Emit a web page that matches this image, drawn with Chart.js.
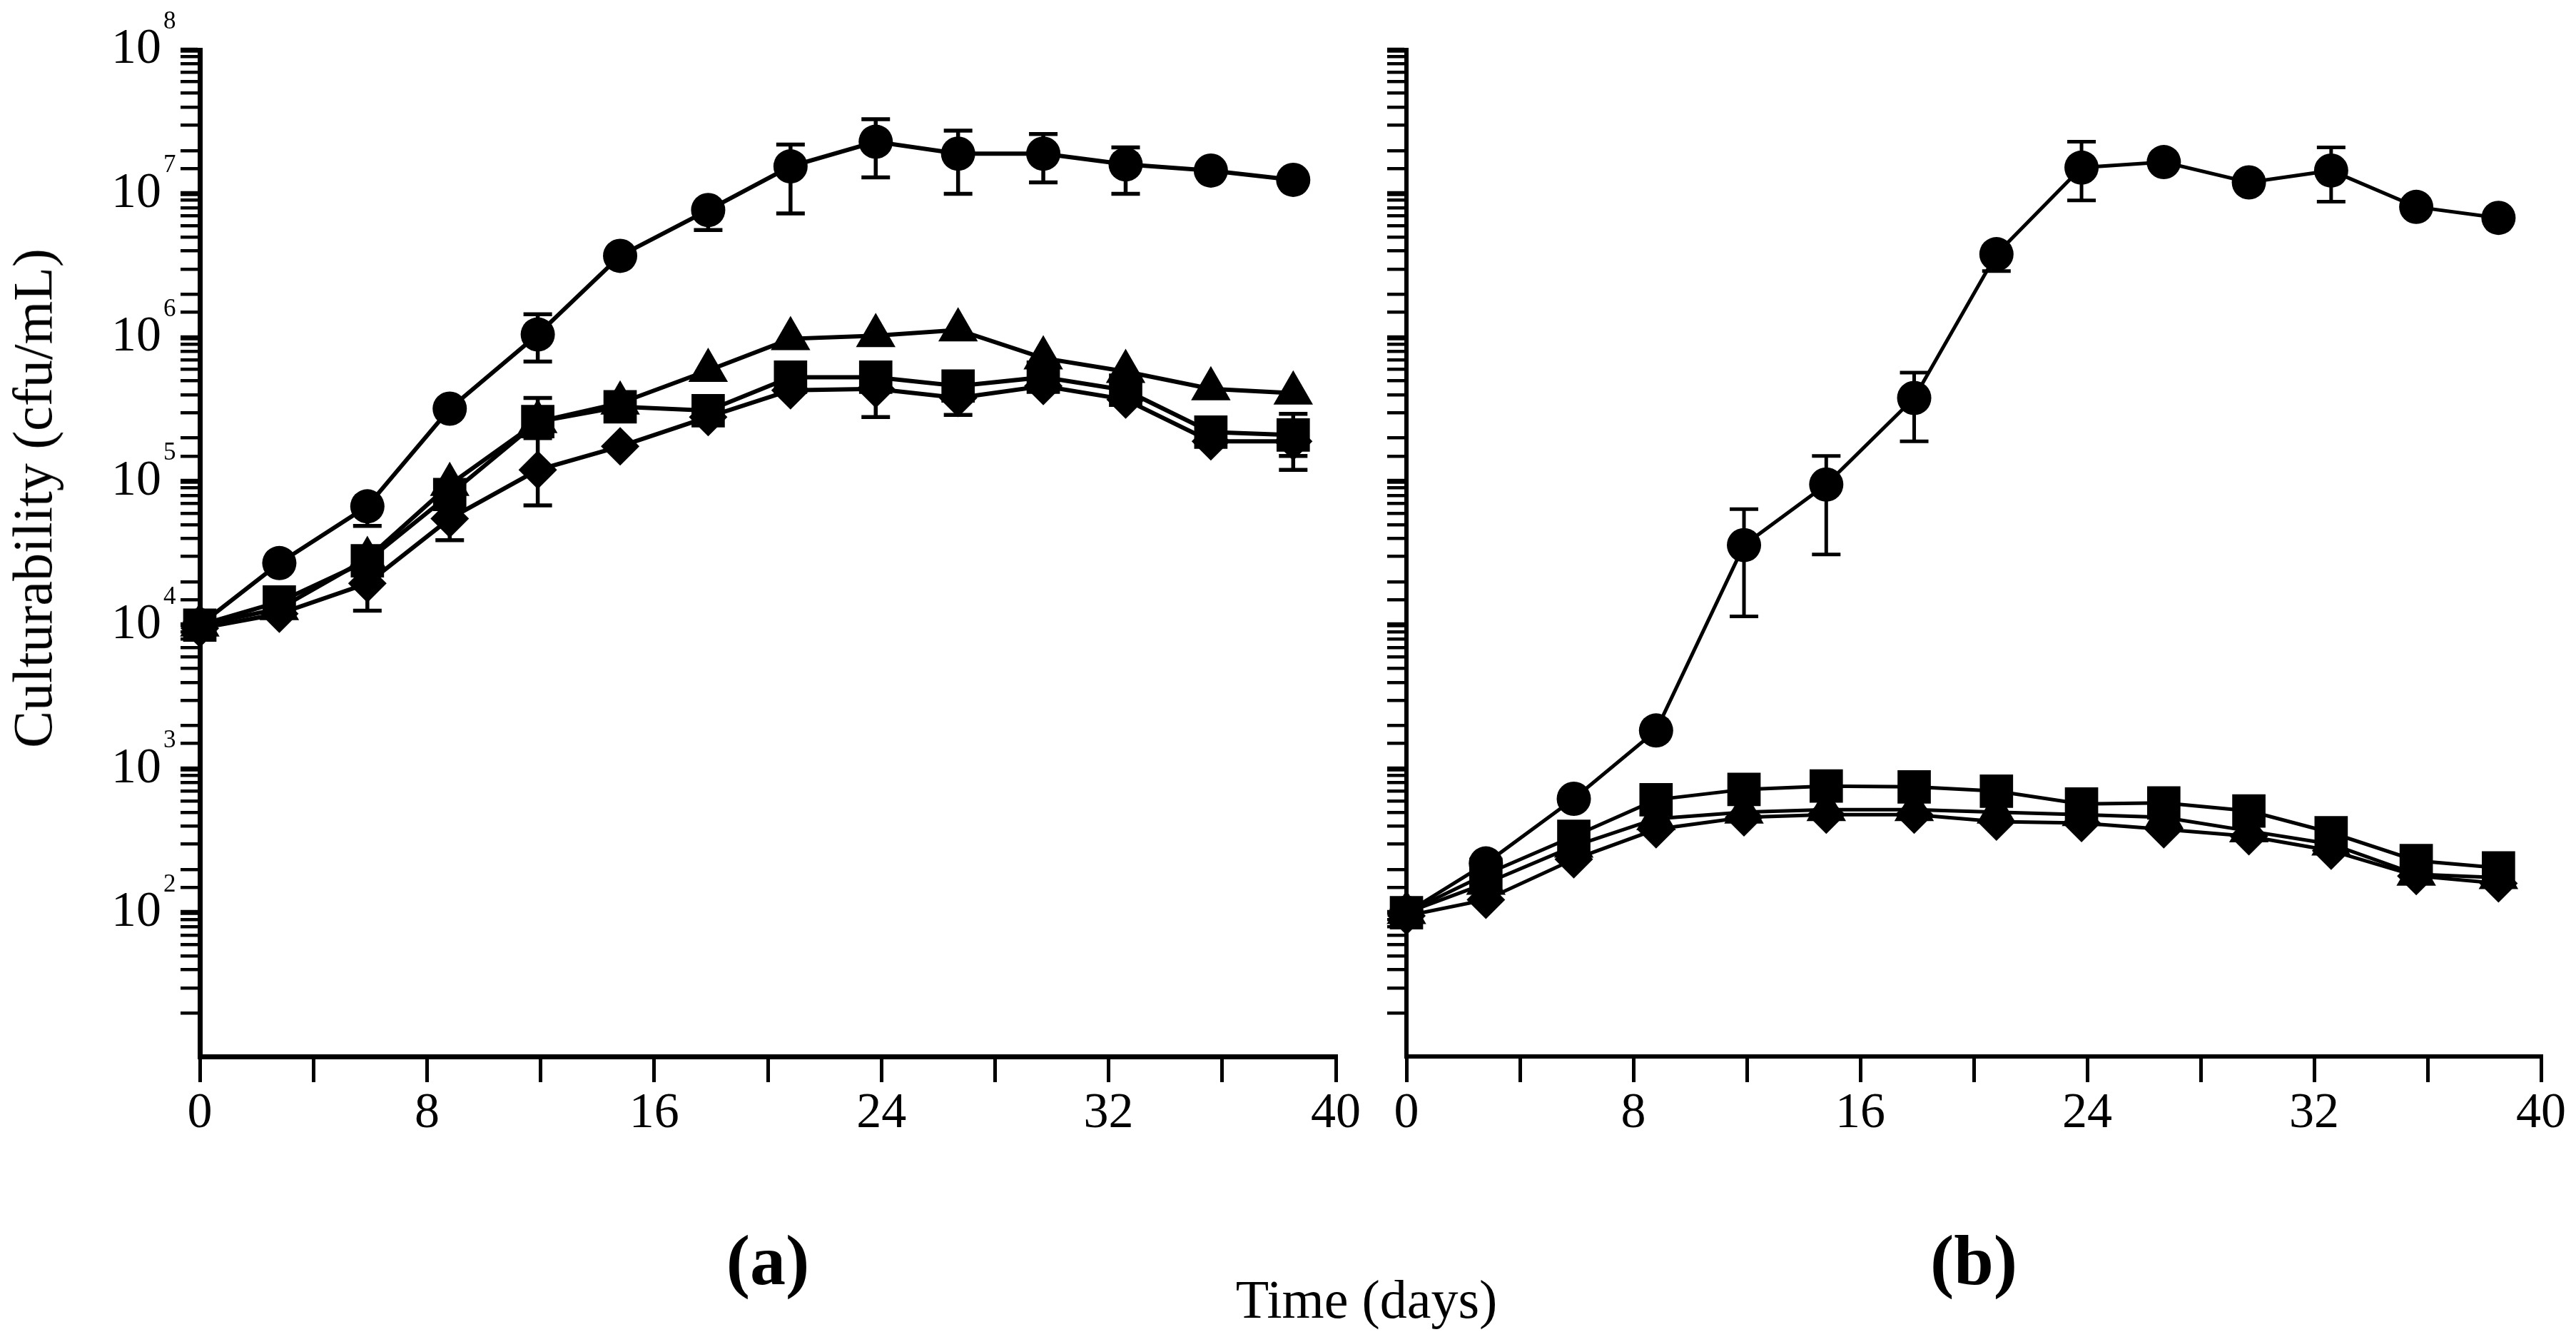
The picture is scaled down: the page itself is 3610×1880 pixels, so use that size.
<!DOCTYPE html>
<html>
<head>
<meta charset="utf-8">
<script src="https://cdn.jsdelivr.net/npm/chart.js@4.4.1/dist/chart.umd.min.js"></script>
<style>
  html, body { margin: 0; padding: 0; background: #fff; }
  body { width: 3610px; height: 1880px; position: relative; overflow: hidden; font-family: "Liberation Serif", serif; }
  canvas { position: absolute; top: 0; }
  #chartA { left: 0; }
  #chartB { left: 1930px; }
  .txt { position: absolute; white-space: nowrap; color: #000; font-family: "Liberation Serif", serif; }
  #ytitle { left: 46px; top: 698px; font-size: 78px; transform: translate(-50%, -50%) rotate(-90deg); }
  #xtitle { left: 1915px; top: 1820px; font-size: 76px; transform: translate(-50%, -50%); }
</style>
</head>
<body>
<canvas id="chartA" width="1930" height="1880"></canvas>
<canvas id="chartB" width="1680" height="1880"></canvas>
<div class="txt" id="ytitle">Culturability (cfu/mL)</div>
<div class="txt" id="xtitle">Time (days)</div>
<script>
// sampling days (same for both panels)
const days = [0, 2.8, 5.9, 8.8, 11.9, 14.8, 17.9, 20.8, 23.8, 26.7, 29.7, 32.6, 35.6, 38.5];

// panel (a)
const circleA   = [1.0e4, 2.7e4, 6.7e4, 3.2e5, 1.05e6, 3.7e6, 7.7e6, 1.55e7, 2.3e7, 1.9e7, 1.9e7, 1.6e7, 1.45e7, 1.25e7];
const triangleA = [1.0e4, 1.3e4, 2.9e4, 9.5e4, 2.6e5, 3.5e5, 5.9e5, 9.8e5, 1.03e6, 1.13e6, 7.2e5, 5.8e5, 4.4e5, 4.1e5];
const squareA   = [1.0e4, 1.45e4, 2.8e4, 8.1e4, 2.6e5, 3.3e5, 3.1e5, 5.3e5, 5.3e5, 4.6e5, 5.3e5, 4.3e5, 2.2e5, 2.1e5];
const diamondA  = [0.95e4, 1.2e4, 1.95e4, 5.5e4, 1.2e5, 1.75e5, 2.8e5, 4.3e5, 4.4e5, 3.8e5, 4.6e5, 3.7e5, 1.9e5, 1.9e5];

const circleAHi  = [null, null, null, null, 1.45e6, null, null, 2.2e7, 3.3e7, 2.75e7, 2.6e7, 2.1e7, null, null];
const circleALo  = [null, null, 4.9e4, null, 6.8e5, null, 5.6e6, 7.3e6, 1.3e7, 1.0e7, 1.2e7, 1.0e7, null, null];
const squareAHi  = [null, null, null, null, 3.8e5, null, null, null, null, null, null, null, null, 2.95e5];
const squareALo  = [null, null, null, null, null, null, null, null, null, null, null, null, null, 1.5e5];
const diamondAHi = [null, null, null, null, 2.0e5, null, null, null, null, null, null, null, null, null];
const diamondALo = [null, null, 1.26e4, 3.9e4, 6.8e4, null, null, null, 2.8e5, 2.9e5, null, null, null, 1.2e5];

// panel (b)
const circleB   = [1.0e2, 2.2e2, 6.2e2, 1.85e3, 3.6e4, 9.5e4, 3.8e5, 3.8e6, 1.52e7, 1.66e7, 1.2e7, 1.45e7, 8.1e6, 6.8e6];
const squareB   = [1.0e2, 1.85e2, 3.4e2, 6.1e2, 7.2e2, 7.6e2, 7.5e2, 7.0e2, 5.7e2, 5.8e2, 5.1e2, 3.6e2, 2.3e2, 2.05e2];
const triangleB = [1.0e2, 1.6e2, 2.9e2, 4.5e2, 5.0e2, 5.2e2, 5.2e2, 5.0e2, 4.8e2, 4.6e2, 3.7e2, 3.0e2, 1.85e2, 1.75e2];
const diamondB  = [0.95e2, 1.23e2, 2.35e2, 3.8e2, 4.6e2, 4.8e2, 4.8e2, 4.3e2, 4.2e2, 3.8e2, 3.4e2, 2.7e2, 1.8e2, 1.6e2];

const circleBHi = [null, null, null, null, 6.4e4, 1.5e5, 5.7e5, null, 2.3e7, null, null, 2.1e7, null, null];
const circleBLo = [null, null, null, null, 1.15e4, 3.1e4, 1.9e5, 2.9e6, 9.0e6, null, null, 8.8e6, null, null];

// axis ticks
const xTickStep = 4;
const xLabelEvery = 8;
const yMin = 10;
const yMax = 1e8;
const yExponents = [2, 3, 4, 5, 6, 7, 8];

const FONT = '"Liberation Serif", serif';
const Y_TICK_LEN = 27;
const Y_LABEL_PAD = 27;

Chart.defaults.font.family = FONT;
Chart.defaults.color = '#000';

const isPow10 = (v) => Math.abs(Math.log10(v) - Math.round(Math.log10(v))) < 1e-9;

const pts = (ys) => days.map((d, i) => ({ x: d, y: ys[i] }));

function series(ys, style, radius, lineW, hi, lo) {
  return {
    data: pts(ys),
    borderColor: '#000',
    borderWidth: lineW,
    backgroundColor: '#000',
    pointStyle: style,
    pointRadius: radius,
    pointBackgroundColor: '#000',
    pointBorderWidth: 0,
    tension: 0,
    clip: false,
    errHi: hi || null,
    errLo: lo || null,
  };
}

// vertical error bars drawn from the y scale
const errorBars = {
  id: 'errorBars',
  beforeDatasetsDraw(chart, args, opts) {
    const { ctx } = chart;
    const y = chart.scales.y;
    ctx.save();
    ctx.strokeStyle = '#000';
    ctx.lineWidth = opts.width || 5;
    const cap = (opts.cap || 40) / 2;
    chart.data.datasets.forEach((ds, i) => {
      const meta = chart.getDatasetMeta(i);
      meta.data.forEach((el, j) => {
        [ds.errHi, ds.errLo].forEach((arr) => {
          if (!arr || arr[j] == null) return;
          const py = y.getPixelForValue(arr[j]);
          ctx.beginPath();
          ctx.moveTo(el.x, el.y);
          ctx.lineTo(el.x, py);
          ctx.moveTo(el.x - cap, py);
          ctx.lineTo(el.x + cap, py);
          ctx.stroke();
        });
      });
    });
    ctx.restore();
  }
};

// small raised exponents next to the "10" tick labels
const exponents = {
  id: 'exponents',
  afterDraw(chart, args, opts) {
    if (!opts.show) return;
    const { ctx } = chart;
    const s = chart.scales.y;
    ctx.save();
    ctx.font = '35px ' + FONT;
    ctx.fillStyle = '#000';
    ctx.textAlign = 'left';
    ctx.textBaseline = 'alphabetic';
    const x = s.right - Y_TICK_LEN - Y_LABEL_PAD + 3;
    yExponents.forEach((e) => {
      const py = s.getPixelForValue(Math.pow(10, e));
      ctx.fillText(String(e), x, py - 30);
    });
    ctx.restore();
  }
};

function makeChart(id, datasets, o) {
  return new Chart(document.getElementById(id), {
    type: 'line',
    data: { datasets },
    plugins: [errorBars, exponents],
    options: {
      responsive: false,
      devicePixelRatio: 1,
      animation: false,
      layout: { padding: { top: 70, right: o.padRight, bottom: 0, left: 0 } },
      plugins: {
        legend: { display: false },
        tooltip: { enabled: false },
        errorBars: { width: o.errW, cap: 40 },
        exponents: { show: o.labels },
      },
      scales: {
        x: {
          type: 'linear',
          min: 0,
          max: 40,
          afterFit: (s) => { s.height = 400; },
          border: { display: true, color: '#000', width: o.axisW },
          grid: { display: true, drawOnChartArea: false, drawTicks: true, tickLength: 36, tickWidth: 5, tickColor: '#000', lineWidth: 5 },
          ticks: {
            stepSize: xTickStep,
            autoSkip: false,
            maxRotation: 0,
            padding: 3,
            font: { size: 70 },
            callback: (v) => (v % xLabelEvery === 0 ? String(v) : ''),
          },
          title: { display: true, text: o.panel, font: { size: 100, weight: 'bold' }, padding: { top: 0, bottom: 47 } },
        },
        y: {
          type: 'logarithmic',
          min: yMin,
          max: yMax,
          afterFit: (s) => { s.width = o.yWidth; },
          border: { display: true, color: '#000', width: o.axisW },
          grid: {
            display: true,
            drawOnChartArea: false,
            drawTicks: true,
            tickLength: Y_TICK_LEN,
            tickWidth: (c) => (c.tick && isPow10(c.tick.value) ? 7 : 4.5),
            tickColor: (c) => (c.tick && c.tick.value <= yMin ? 'rgba(0,0,0,0)' : '#000'),
            lineWidth: 4.5,
          },
          ticks: {
            autoSkip: false,
            padding: Y_LABEL_PAD,
            font: { size: 70 },
            callback: (v) => (o.labels && isPow10(v) && v >= 100 ? '10' : ''),
          },
        },
      },
    },
  });
}

makeChart('chartA', [
  series(circleA, 'circle', 24, 6, circleAHi, circleALo),
  series(triangleA, 'triangle', 32, 6),
  series(squareA, 'rect', 33, 6, squareAHi, squareALo),
  series(diamondA, 'rectRot', 27, 6, diamondAHi, diamondALo),
], { panel: '(a)', padRight: 58, yWidth: 280, labels: true, axisW: 7, errW: 5.5 });

makeChart('chartB', [
  series(circleB, 'circle', 24, 5, circleBHi, circleBLo),
  series(triangleB, 'triangle', 32, 5),
  series(squareB, 'rect', 33, 5),
  series(diamondB, 'rectRot', 27, 5),
], { panel: '(b)', padRight: 49, yWidth: 41, labels: false, axisW: 6, errW: 5 });
</script>
</body>
</html>
